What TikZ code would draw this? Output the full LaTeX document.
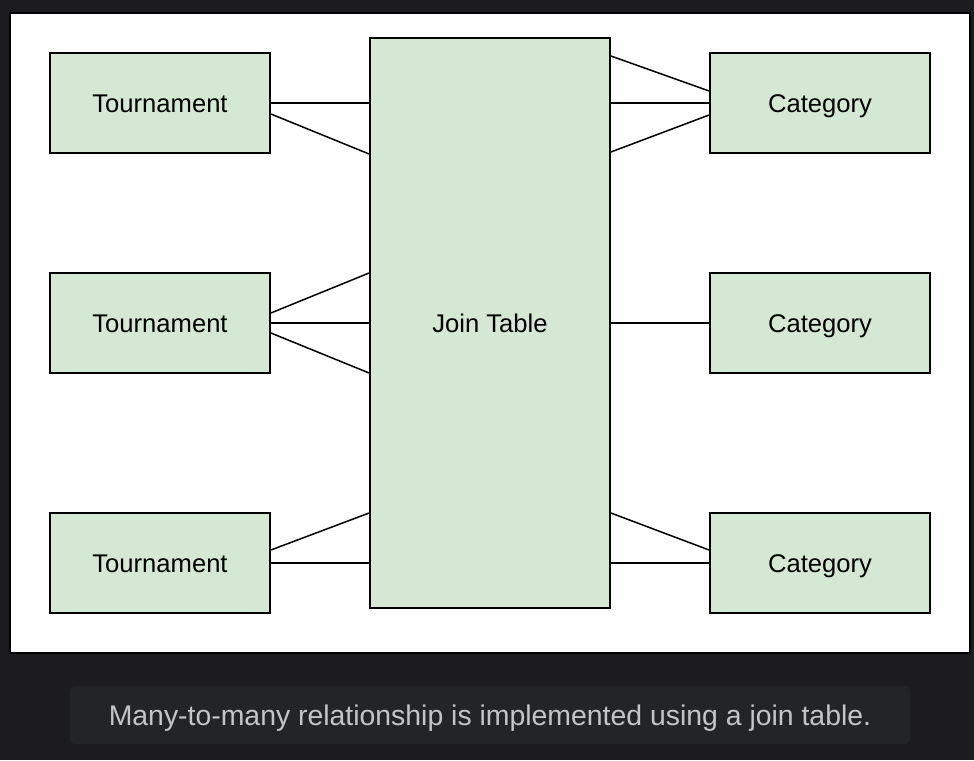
\documentclass[tikz,border=0pt]{standalone}
\usepackage{fontspec}
\setmainfont{Liberation Sans}
\definecolor{pagebg}{RGB}{28,28,30}
\definecolor{capbg}{RGB}{35,36,40}
\definecolor{captext}{RGB}{196,196,201}
\definecolor{boxfill}{RGB}{213,232,212}
\begin{document}
\begin{tikzpicture}[x=1pt,y=-1pt,
  entity/.style={draw=black, fill=boxfill, line width=1.8pt, inner sep=0pt,
    minimum width=220pt, minimum height=100pt, text height=18.5pt, text depth=0.5pt,
    font=\fontsize{25.6}{29}\selectfont},
  joinbox/.style={entity, minimum width=240pt, minimum height=570pt},
  link/.style={draw=black, line width=1.5pt}]
\fill[pagebg] (0,0) rectangle (974,760);
\useasboundingbox (0,0) rectangle (974,760);
\draw[fill=white, draw=black, line width=2pt] (10,13) rectangle (970,653);
% nodes
\node[entity] (t1) at (160,103) {Tournament};
\node[entity] (t2) at (160,323) {Tournament};
\node[entity] (t3) at (160,563) {Tournament};
\node[joinbox] (jt) at (490,323) {Join Table};
\node[entity] (c1) at (820,103) {Category};
\node[entity] (c2) at (820,323) {Category};
\node[entity] (c3) at (820,563) {Category};
% left connectors
\draw[link] (t1.east) -- ([yshift=220pt]jt.west);
\draw[link] ([yshift=-11pt]t1.east) -- ([yshift=169pt]jt.west);
\draw[link] ([yshift=10pt]t2.east) -- ([yshift=50pt]jt.west);
\draw[link] (t2.east) -- (jt.west);
\draw[link] ([yshift=-10pt]t2.east) -- ([yshift=-50pt]jt.west);
\draw[link] ([yshift=13pt]t3.east) -- ([yshift=-190pt]jt.west);
\draw[link] (t3.east) -- ([yshift=-240pt]jt.west);
% right connectors
\draw[link] ([yshift=267pt]jt.east) -- ([yshift=12pt]c1.west);
\draw[link] ([yshift=220pt]jt.east) -- (c1.west);
\draw[link] ([yshift=171pt]jt.east) -- ([yshift=-12pt]c1.west);
\draw[link] (jt.east) -- (c2.west);
\draw[link] ([yshift=-190pt]jt.east) -- ([yshift=13pt]c3.west);
\draw[link] ([yshift=-240pt]jt.east) -- (c3.west);
% caption
\fill[capbg, rounded corners=5pt] (70,686) rectangle (910,744);
\node[text=captext, font=\fontsize{28.4}{32}\selectfont, inner sep=0pt,
  text height=20.5pt, text depth=0.5pt] (cap) at (490,715) {Many-to-many relationship is implemented using a join table.};
\end{tikzpicture}
\end{document}
